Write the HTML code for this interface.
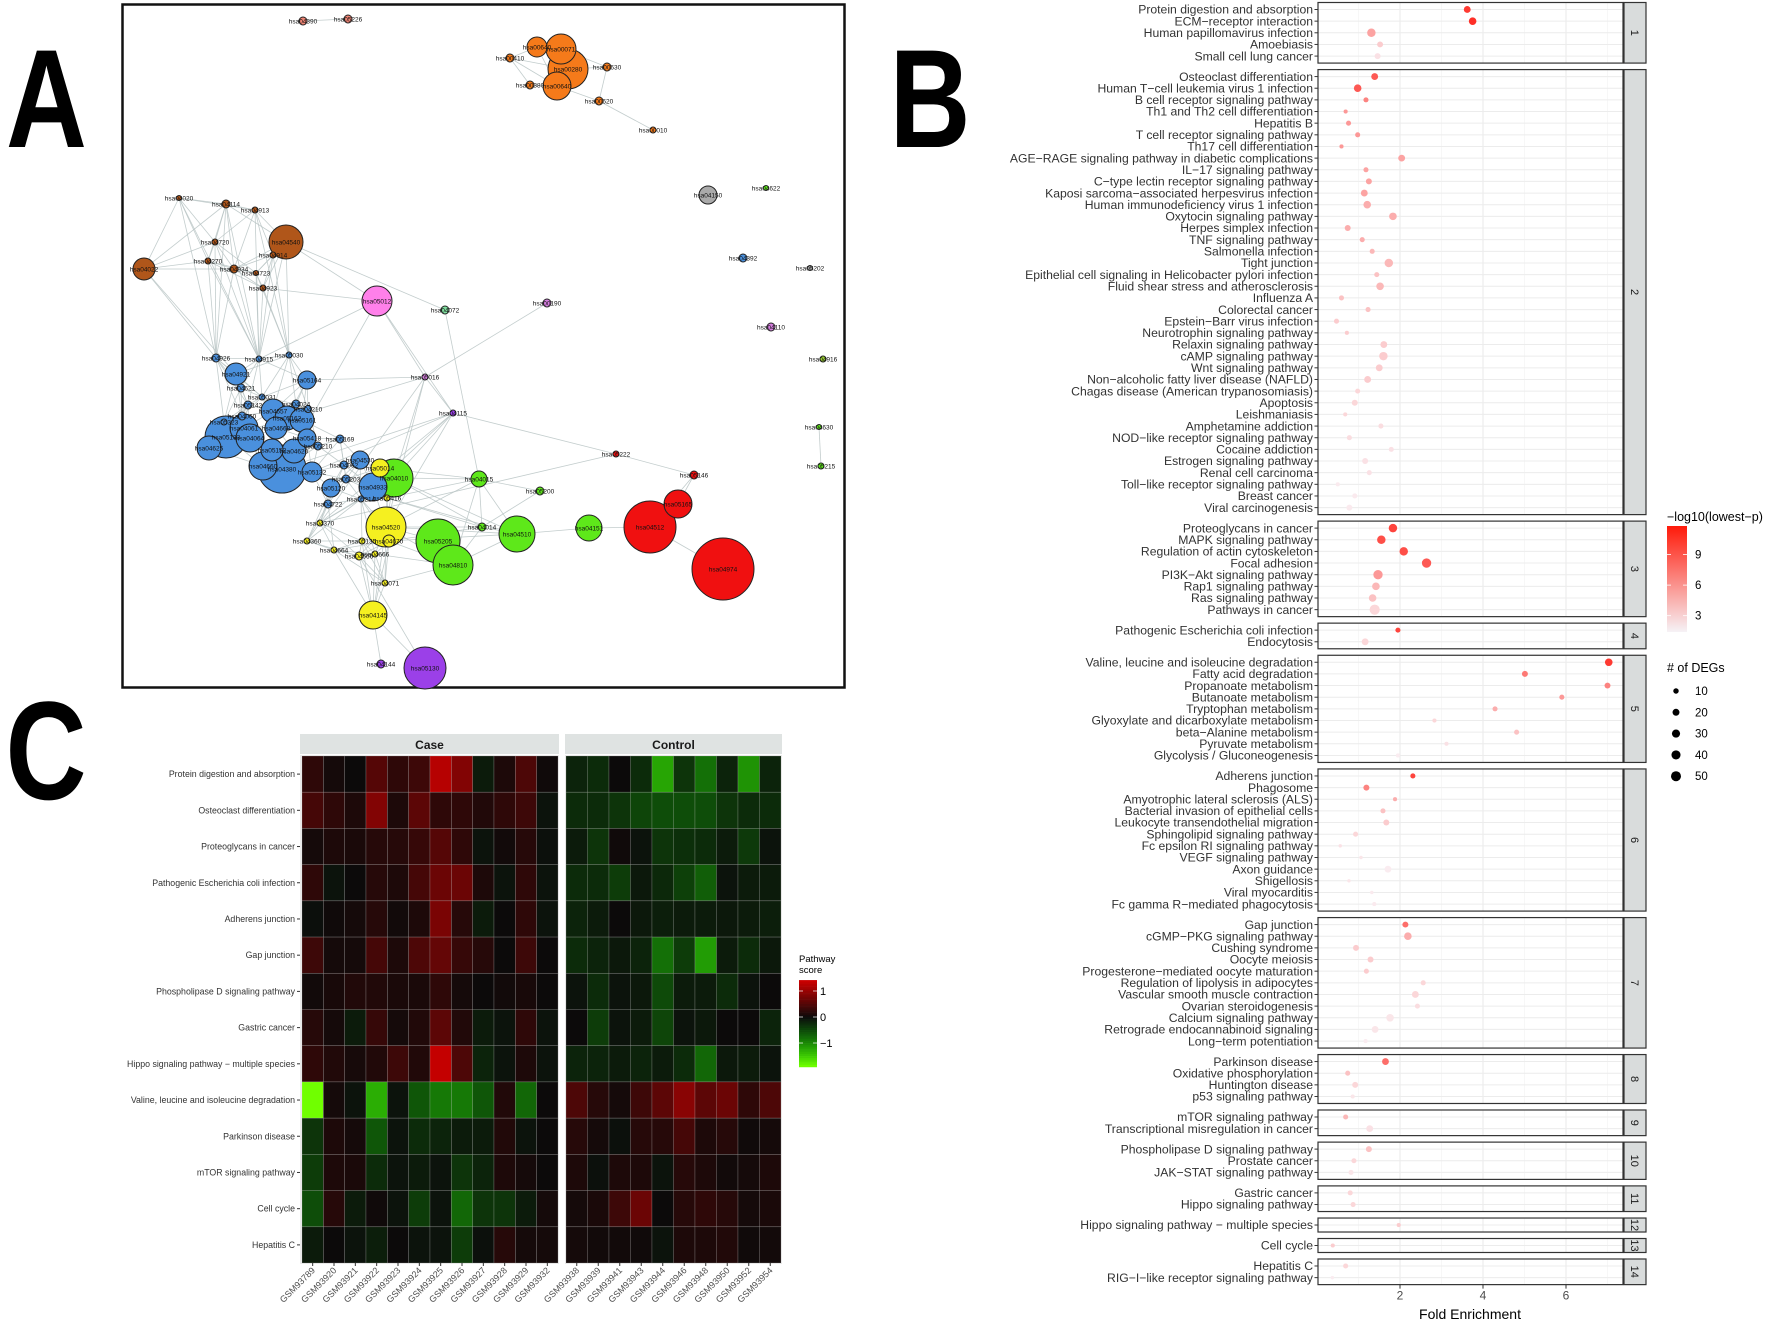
<!DOCTYPE html>
<html><head><meta charset="utf-8">
<style>
html,body{margin:0;padding:0;background:#fff;}
svg{display:block;font-family:"Liberation Sans",Arial,sans-serif;}
</style></head>
<body>
<svg id="fig" width="1772" height="1322" viewBox="0 0 1772 1322" xmlns="http://www.w3.org/2000/svg">
<rect width="1772" height="1322" fill="#fff"/>
<text x="6" y="147" font-size="140" font-weight="bold" transform="translate(6,0) scale(0.8,1) translate(-6,0)" fill="#000">A</text>
<text x="1112" y="147" font-size="140" font-weight="bold" transform="scale(0.8,1)" fill="#000">B</text>
<text x="7" y="799" font-size="140" font-weight="bold" transform="scale(0.8,1)" fill="#000">C</text>
<g id="panelA"></g>
<g id="panelB"></g>
<g id="panelC"></g>
</svg>
<script>
// ---------- Panel A: network nodes ----------
const nodeIds=["hsa04390","hsa05226","hsa00640","hsa00071","hsa00280","hsa00410","hsa00380","hsa00640","hsa00630","hsa00620","hsa00010",
"hsa04020","hsa04114","hsa04913","hsa04540","hsa04720","hsa04914","hsa04022","hsa04270","hsa04934","hsa04723","hsa04923",
"hsa05012","hsa04072","hsa00190","hsa04110","hsa04150","hsa04622","hsa04392","hsa05202","hsa04916","hsa04630","hsa05215",
"hsa04926","hsa04915","hsa05030","hsa04921","hsa05164","hsa04621","hsa05031","hsa05142","hsa04024","hsa04210","hsa04657","hsa05162","hsa05161","hsa04060","hsa05323","hsa04668","hsa04061","hsa05418","hsa05169","hsa05133","hsa04064","hsa04625","hsa05210","hsa05152","hsa04620","hsa04380","hsa04660","hsa05132","hsa04530","hsa04062","hsa05203","hsa05120","hsa04933","hsa04722","hsa05214",
"hsa05014","hsa04010","hsa05416","hsa04015","hsa05200","hsa04370","hsa04520","hsa04360","hsa05135","hsa04670","hsa05205","hsa04014","hsa04510","hsa04151","hsa04664","hsa04666","hsa04666","hsa04810","hsa04071","hsa04145","hsa04144","hsa05130",
"hsa05222","hsa05146","hsa05165","hsa04512","hsa04974","hsa05016","hsa04115"];
const nodeX=[303,348,537,561,568,510,530,557,607,599,653,
179,226,255,286,215,273,144,208,234,256,263,
377,445,547,771,708,766,743,810,823,819,821,
216,259,289,236,307,241,262,248,296,308,273,287,302,242,224,276,244,307,340,226,250,209,318,272,294,282,263,312,360,344,346,331,373,328,361,
380,394,387,479,540,320,386,307,362,389,438,482,517,589,334,359,375,453,385,373,381,425,
616,694,678,650,723,425,453];
const nodeY=[21,19,47,49,69,58,85,86,67,101,130,
198,204,210,242,242,255,269,261,269,273,288,
301,310,303,327,195,188,258,268,359,427,466,
358,359,355,374,380,388,397,405,404,409,411,418,420,416,422,428,428,438,439,437,438,448,446,450,451,469,466,472,460,465,479,488,487,504,499,
468,478,498,479,491,523,527,541,541,541,541,527,534,528,550,556,554,565,583,615,664,668,
454,475,504,527,569,377,413];
const nodeR=[4,4,10,15,20,4,4,14,4,4,3,
2.5,4,3,17,3,3,11,3,4,2.5,3,
15,4,4,4,9,2.5,4,2.5,3,2.5,3,
4,3,3,11,9,4,3,4,4,3.5,12,12,12,4,3,11,14,9,4,21,14,12,4,11,12,24,14,10,9,4,4,9,14,4,3,
9,19,3,8,4,3,20,3,3,6,22,4,18,13,3,4,3,20,3,14,4,21,
3,4,14,26,31,3,3];
const nodeGroup=["s","s","o","o","o","o","o","o","o","o","o",
"br","br","br","br","br","br","br","br","br","br","br",
"pk","tl","vi","vi","gy","gr","bl2","gy","ol","gr","gr",
"bl","bl","bl","bl","bl","bl","bl","bl","bl","bl","bl","bl","bl","bl","bl","bl","bl","bl","bl","bl","bl","bl","bl","bl","bl","bl","bl","bl","bl","bl","bl","bl","bl","bl","bl",
"ye","gr","ye","gr","gr","ye","ye","ye","ye","ye","gr","gr","gr","gr","ye","ye","ye","gr","ye","ye","pu","pu",
"rd","rd","rd","rd","rd","vi","pu"];
const groupColor={s:"#f08575",o:"#f57a1a",br:"#b0561a",pk:"#ff80ea",tl:"#80e0a0",vi:"#d67ee0",gy:"#aaaaaa",gr:"#5ee81a",bl:"#4a90dd",bl2:"#4a90dd",ol:"#9acd32",ye:"#f5f020",pu:"#9b40e8",rd:"#f01010"};
const extraEdges=[[2,3],[3,4],[4,7],[5,2],[5,4],[5,6],[6,7],[4,8],[7,9],[9,8],[9,10],[5,7],[8,3],[2,7],[0,1],
[17,11],[17,18],[17,33],[11,12],[11,15],[12,13],[12,14],[14,16],[14,22],[14,23],[15,18],[22,58],[22,34],[22,21],[22,96],[22,95],
[23,71],[24,95],[31,32],
[95,96],[95,37],[95,52],[95,73],[95,69],[95,74],[96,69],[96,90],[96,73],[96,65],[96,58],[96,74],[96,60],
[91,90],[90,73],[73,69],[91,93],[92,93],[92,91],[93,94],[93,81],[81,80],[80,85],[80,71],[71,72],[71,69],[72,79],[85,78],[78,74],[79,80],[69,79],
[87,86],[87,89],[87,88],[89,83],[86,74]];
// ---------- Panel B: enrichment dot plot ----------
const bGroupSizes=[5,38,8,2,9,12,11,4,2,3,2,1,1,2];
const bTerms=["Protein digestion and absorption","ECM\u2212receptor interaction","Human papillomavirus infection","Amoebiasis","Small cell lung cancer",
"Osteoclast differentiation","Human T\u2212cell leukemia virus 1 infection","B cell receptor signaling pathway","Th1 and Th2 cell differentiation","Hepatitis B","T cell receptor signaling pathway","Th17 cell differentiation","AGE\u2212RAGE signaling pathway in diabetic complications","IL\u221217 signaling pathway","C\u2212type lectin receptor signaling pathway","Kaposi sarcoma\u2212associated herpesvirus infection","Human immunodeficiency virus 1 infection","Oxytocin signaling pathway","Herpes simplex infection","TNF signaling pathway","Salmonella infection","Tight junction","Epithelial cell signaling in Helicobacter pylori infection","Fluid shear stress and atherosclerosis","Influenza A","Colorectal cancer","Epstein\u2212Barr virus infection","Neurotrophin signaling pathway","Relaxin signaling pathway","cAMP signaling pathway","Wnt signaling pathway","Non\u2212alcoholic fatty liver disease (NAFLD)","Chagas disease (American trypanosomiasis)","Apoptosis","Leishmaniasis","Amphetamine addiction","NOD\u2212like receptor signaling pathway","Cocaine addiction","Estrogen signaling pathway","Renal cell carcinoma","Toll\u2212like receptor signaling pathway","Breast cancer","Viral carcinogenesis",
"Proteoglycans in cancer","MAPK signaling pathway","Regulation of actin cytoskeleton","Focal adhesion","PI3K\u2212Akt signaling pathway","Rap1 signaling pathway","Ras signaling pathway","Pathways in cancer",
"Pathogenic Escherichia coli infection","Endocytosis",
"Valine, leucine and isoleucine degradation","Fatty acid degradation","Propanoate metabolism","Butanoate metabolism","Tryptophan metabolism","Glyoxylate and dicarboxylate metabolism","beta\u2212Alanine metabolism","Pyruvate metabolism","Glycolysis / Gluconeogenesis",
"Adherens junction","Phagosome","Amyotrophic lateral sclerosis (ALS)","Bacterial invasion of epithelial cells","Leukocyte transendothelial migration","Sphingolipid signaling pathway","Fc epsilon RI signaling pathway","VEGF signaling pathway","Axon guidance","Shigellosis","Viral myocarditis","Fc gamma R\u2212mediated phagocytosis",
"Gap junction","cGMP\u2212PKG signaling pathway","Cushing syndrome","Oocyte meiosis","Progesterone\u2212mediated oocyte maturation","Regulation of lipolysis in adipocytes","Vascular smooth muscle contraction","Ovarian steroidogenesis","Calcium signaling pathway","Retrograde endocannabinoid signaling","Long\u2212term potentiation",
"Parkinson disease","Oxidative phosphorylation","Huntington disease","p53 signaling pathway",
"mTOR signaling pathway","Transcriptional misregulation in cancer",
"Phospholipase D signaling pathway","Prostate cancer","JAK\u2212STAT signaling pathway",
"Gastric cancer","Hippo signaling pathway",
"Hippo signaling pathway \u2212 multiple species",
"Cell cycle",
"Hepatitis C","RIG\u2212I\u2212like receptor signaling pathway"];
const bFold=[3.62,3.75,1.31,1.52,1.46,
1.39,0.98,1.18,0.69,0.76,0.98,0.59,2.04,1.18,1.25,1.14,1.21,1.83,0.74,1.09,1.33,1.73,1.44,1.52,0.59,1.23,0.47,0.72,1.61,1.60,1.50,1.22,0.98,0.91,0.68,1.54,0.78,1.79,1.16,1.26,0.50,0.91,0.78,
1.83,1.55,2.09,2.64,1.47,1.42,1.34,1.39,
1.95,1.16,
7.03,5.01,7.00,5.90,4.29,2.83,4.81,3.12,1.95,
2.31,1.19,1.88,1.59,1.67,0.93,0.56,1.06,1.71,0.77,1.32,1.38,
2.13,2.19,0.94,1.29,1.19,2.56,2.37,2.42,1.76,1.40,1.17,
1.65,0.74,0.92,0.86,
0.69,1.27,
1.25,0.89,0.82,
0.80,0.87,
1.97,
0.38,
0.69,0.37];
const bLogP=[10,10.5,5,3,2,
8.5,8.5,6.5,5.5,5.5,5.5,5.5,5,5,5,5,4.5,4.5,4.5,4.5,4,4,3.5,4,3.5,3.5,3,3,3,3,3,3,2.5,2.5,2.5,2.2,2.2,2,2,2,1.6,1.6,1.6,
9.5,9,9,8.5,5.5,4,3.5,2.5,
9.5,2.5,
10,7,6.5,5.5,4.5,2.5,3.5,2,1.5,
9.5,6.5,4.5,3.5,3,2.5,2,1.8,1.5,1.8,1.6,1.6,
7.5,4.5,3,3,3,2.5,2.5,2.2,1.8,1.8,1.5,
7.5,3.5,2.5,1.8,
4,2,
3.5,2.5,1.8,
2.5,2.5,
3,
3,
2.5,1.5];
const bDegs=[19,25,33,13,13,
19,25,8,4,8,8,4,19,8,13,19,25,25,13,8,8,33,8,25,8,8,8,4,19,33,19,19,8,13,4,8,8,8,13,8,4,8,13,
33,33,33,42,42,25,25,52,
8,19,
25,13,13,8,8,4,8,4,4,
8,13,4,8,13,8,2,2,19,2,2,4,
13,25,13,13,8,8,19,8,25,19,4,
19,8,13,4,
8,19,
13,8,8,
8,8,
4,
4,
8,2];
const bXTicks=[2,4,6];
const bLegendP=[9,6,3];
const bLegendDegs=[10,20,30,40,50];
// ---------- Panel C: heatmap ----------
const cRows=["Protein digestion and absorption","Osteoclast differentiation","Proteoglycans in cancer","Pathogenic Escherichia coli infection","Adherens junction","Gap junction","Phospholipase D signaling pathway","Gastric cancer","Hippo signaling pathway \u2212 multiple species","Valine, leucine and isoleucine degradation","Parkinson disease","mTOR signaling pathway","Cell cycle","Hepatitis C"];
const caseCols=["GSM93789","GSM93920","GSM93921","GSM93922","GSM93923","GSM93924","GSM93925","GSM93926","GSM93927","GSM93928","GSM93929","GSM93932"];
const controlCols=["GSM93938","GSM93939","GSM93941","GSM93943","GSM93944","GSM93946","GSM93948","GSM93950","GSM93952","GSM93954"];
const caseVals=[
[0.2,0.05,0,0.45,0.2,0.3,1.1,0.75,-0.1,0.1,0.4,0.02],
[0.35,0.2,0.1,0.75,0.1,0.5,0.2,0.2,0.12,0.2,0.3,-0.05],
[0.05,0.1,0.08,0.15,0.15,0.25,0.45,0.2,-0.05,0.03,0.15,-0.03],
[0.2,-0.05,0,0.15,0.1,0.35,0.6,0.6,0.1,-0.05,0.2,-0.05],
[-0.02,0.02,0.05,0.15,0.03,0.1,0.7,0.15,-0.1,0,0.2,-0.05],
[0.3,0.05,0.05,0.35,0.1,0.4,0.55,0.25,0.15,0,0.3,0],
[0.03,0.07,0.12,0.12,0.08,0.08,0.2,0.05,0,0.03,0.07,0],
[0.15,0.05,-0.1,0.25,0.05,0.12,0.5,0.12,-0.1,-0.05,0.2,-0.05],
[0.2,0.12,0.06,0.12,0.3,0.12,1.2,0.4,-0.15,-0.05,0.1,-0.05],
[-1.4,0.05,-0.05,-0.95,-0.05,-0.45,-0.65,-0.65,-0.45,0.12,-0.55,0],
[-0.25,0.1,0.05,-0.45,-0.05,-0.2,-0.15,-0.1,-0.1,0.12,-0.05,0],
[-0.3,0.1,0.08,-0.2,-0.05,-0.1,-0.05,-0.25,-0.15,0.1,0.05,0],
[-0.4,0.15,-0.1,0.02,-0.05,-0.3,-0.05,-0.55,-0.25,-0.25,-0.1,0.05],
[-0.1,0,-0.05,-0.12,0,-0.05,-0.05,-0.3,-0.03,0.15,0.05,0.05]];
const controlVals=[
[-0.15,-0.2,0,-0.2,-0.9,-0.25,-0.6,-0.15,-0.8,-0.15],
[-0.2,-0.2,-0.25,-0.35,-0.4,-0.4,-0.4,-0.25,-0.2,-0.2],
[-0.1,-0.25,0.02,-0.05,-0.25,-0.22,-0.2,-0.1,-0.28,-0.05],
[-0.2,-0.2,-0.3,-0.08,-0.18,-0.32,-0.5,-0.05,-0.1,-0.1],
[-0.15,-0.1,0,-0.08,-0.12,-0.1,-0.1,-0.08,-0.1,-0.12],
[-0.2,-0.15,-0.08,-0.15,-0.6,-0.3,-0.85,-0.1,-0.2,-0.08],
[-0.05,-0.2,-0.05,-0.08,-0.38,-0.1,-0.1,-0.2,-0.05,0],
[0,-0.3,-0.05,-0.1,-0.35,-0.05,-0.08,0,0,-0.15],
[-0.15,-0.15,-0.1,-0.15,-0.1,-0.2,-0.55,-0.08,-0.1,-0.05],
[0.4,0.15,0.05,0.3,0.5,0.8,0.5,0.6,0.2,0.4],
[0.15,0.05,-0.03,0.15,0.15,0.35,0.1,0.15,0.02,0.05],
[0.1,-0.03,0.1,0.1,-0.05,0.15,0.1,0.03,0.05,0.1],
[0.05,0.08,0.3,0.6,0,0.15,0.2,0.15,0.05,0.08],
[0.05,0.03,0.03,0.02,-0.05,0.1,0.1,0.12,0.02,0.04]];
const cLegendTicks=[1,0,-1];

const NS="http://www.w3.org/2000/svg";
function mk(tag,attrs,parent){const e=document.createElementNS(NS,tag);for(const k in attrs)e.setAttribute(k,attrs[k]);parent.appendChild(e);return e;}

// ===== Panel A =====
(function(){
const g=document.getElementById('panelA');
const box=mk('rect',{x:122.5,y:4.5,width:722,height:683,fill:'#fff',stroke:'#111','stroke-width':2.5},g);


const eg=mk('g',{stroke:'#b8c4c4','stroke-width':0.8,'stroke-opacity':0.85},g);


const main=[];
nodeGroup.forEach((gr,i)=>{if(["bl","br","ye"].includes(gr)||[69,71,80,85,79].includes(i)) main.push(i);});
const seen=new Set();
function edge(a,b){const k=a<b?a+'-'+b:b+'-'+a;if(seen.has(k)||a===b)return;seen.add(k);
 const l=mk('line',{x1:nodeX[a],y1:nodeY[a],x2:nodeX[b],y2:nodeY[b]},eg);
 
 }
main.forEach(i=>{
 const d=main.filter(j=>j!==i).map(j=>[j,Math.hypot(nodeX[i]-nodeX[j],nodeY[i]-nodeY[j])]).sort((a,b)=>a[1]-b[1]);
 const k=nodeGroup[i]==="br"?5:7;
 d.slice(0,k).forEach(p=>edge(i,p[0]));
 if(nodeGroup[i]==="br"){d.filter(p=>nodeGroup[p[0]]==="bl").slice(0,2).forEach(p=>edge(i,p[0]));}
});
extraEdges.forEach(e=>{if(e[0]<nodeX.length&&e[1]<nodeX.length)edge(e[0],e[1]);});
const order=nodeX.map((_,i)=>i).sort((a,b)=>nodeR[b]-nodeR[a]);
order.forEach(i=>{
 const c=mk('circle',{cx:nodeX[i],cy:nodeY[i],r:nodeR[i],fill:groupColor[nodeGroup[i]],stroke:'#222','stroke-width':1},g);
 
 
});
order.forEach(i=>{
 const t=mk('text',{x:nodeX[i],y:nodeY[i]+2.3,'font-size':6.5,'text-anchor':'middle',fill:'#111'},g);
 t.textContent=nodeIds[i];
 
 
});
})();

// ===== Panel B =====
(function(){
const g=document.getElementById('panelB');
const L=1318,R=1623,SX=1624,SW=22;
const xB=v=>1317+41.5*v;
const u=11.65,gap=6.5;
function pColor(p){const t=Math.max(0,Math.min(1,(p-1.4)/(11.8-1.4)));
 const a=[250,238,242],b=[255,20,10];
 return 'rgb('+a.map((c,i)=>Math.round(c+(b[i]-c)*t)).join(',')+')';}
const rad=d=>0.9+0.58*Math.sqrt(d);
let y=2.5,idx=0;
bGroupSizes.forEach((n,gi)=>{
 const h=(n+0.2)*u;
 const pg=mk('g',{},g);
 
 
 mk('rect',{x:L,y:y,width:R-L,height:h,fill:'#fff'},pg);
 [1,3,5,7].forEach(v=>mk('line',{x1:xB(v),x2:xB(v),y1:y,y2:y+h,stroke:'#f4f4f4','stroke-width':0.7},pg));
 bXTicks.forEach(v=>mk('line',{x1:xB(v),x2:xB(v),y1:y,y2:y+h,stroke:'#e8e8e8','stroke-width':1},pg));
 for(let i=0;i<n;i++){const cy=y+(0.6+i)*u;
  mk('line',{x1:L,x2:R,y1:cy,y2:cy,stroke:'#ececec','stroke-width':1},pg);}
 for(let i=0;i<n;i++,idx++){const cy=y+(0.6+i)*u;
  const t=mk('text',{x:1313,y:cy+4.2,'font-size':12.2,'text-anchor':'end',fill:'#333'},pg);
  t.textContent=bTerms[idx];
  
  
  mk('line',{x1:1314.5,x2:L,y1:cy,y2:cy,stroke:'#333','stroke-width':1},pg);
  const c=mk('circle',{cx:xB(bFold[idx]),cy:cy,r:rad(bDegs[idx]),fill:pColor(bLogP[idx])},pg);
  
  
 }
 mk('rect',{x:L,y:y,width:R-L,height:h,fill:'none',stroke:'#333','stroke-width':1.2},pg);
 const s=mk('rect',{x:SX,y:y,width:SW,height:h,fill:'#d9dcdc',stroke:'#333','stroke-width':1.2},pg);
 
 
 const st=mk('text',{x:0,y:0,'font-size':11,'text-anchor':'middle',fill:'#1a1a1a',transform:`translate(${SX+SW/2-4},${y+h/2}) rotate(90)`},pg);
 st.textContent=String(gi+1);
 
 
 y+=h+gap;
});
const yb=y-gap;
bXTicks.forEach(v=>{
 mk('line',{x1:xB(v),x2:xB(v),y1:yb,y2:yb+4,stroke:'#333','stroke-width':1},g);
 const t=mk('text',{x:xB(v),y:yb+15,'font-size':12,'text-anchor':'middle',fill:'#4d4d4d'},g);
 t.textContent=v;
 
 
});
const xt=mk('text',{x:1470,y:1319,'font-size':14,'text-anchor':'middle',fill:'#000'},g);
xt.textContent='Fold Enrichment';


const lg=mk('g',{},g);


const lt=mk('text',{x:1667,y:521,'font-size':12.5,fill:'#000'},lg);
lt.textContent='\u2212log10(lowest\u2212p)';


const defs=mk('defs',{},g);
const gr=mk('linearGradient',{id:'pgrad',x1:0,y1:1,x2:0,y2:0},defs);
mk('stop',{offset:'0','stop-color':'#f6f2f6'},gr);
mk('stop',{offset:'1','stop-color':'#ff1a0a'},gr);
const bar=mk('rect',{x:1667,y:526,width:20,height:106,fill:'url(#pgrad)'},lg);


const pY=p=>632-(p-1.4)/(11.8-1.4)*106;
bLegendP.forEach(p=>{
 mk('line',{x1:1667,x2:1671,y1:pY(p),y2:pY(p),stroke:'#fff','stroke-width':0.8},lg);
 mk('line',{x1:1683,x2:1687,y1:pY(p),y2:pY(p),stroke:'#fff','stroke-width':0.8},lg);
 const t=mk('text',{x:1695,y:pY(p)+4,'font-size':11.5,fill:'#000'},lg);
 t.textContent=p;
 
 
});
const st2=mk('text',{x:1667,y:672,'font-size':12.5,fill:'#000'},lg);
st2.textContent='# of DEGs';


bLegendDegs.forEach((d,i)=>{
 const cy=691+i*21.3;
 const c=mk('circle',{cx:1676,cy:cy,r:rad(d),fill:'#000'},lg);
 
 
 const t=mk('text',{x:1695,y:cy+4,'font-size':11.5,fill:'#000'},lg);
 t.textContent=d;
 
 
});
})();

// ===== Panel C =====
(function(){
const g=document.getElementById('panelC');
const top=756,bot=1263,rh=(bot-top)/cRows.length;
function hColor(v){
 if(v>=0){const r=Math.min(210,Math.round(155*Math.pow(v,0.95)));return `rgb(${r+12},${10-Math.min(10,Math.round(v*8))},${10-Math.min(10,Math.round(v*8))})`;}
 const t=Math.min(1,-v/1.4);
 const gg=Math.round(12+243*Math.pow(t,1.05));const r=Math.round(12+100*Math.pow(t,3));
 return `rgb(${r},${gg},${Math.max(0,12-Math.round(t*12))})`;
}
const facets=[{name:'Case',x0:302,x1:558,sx0:300,sx1:559,cols:caseCols,vals:caseVals},{name:'Control',x0:566,x1:781,sx0:565,sx1:782,cols:controlCols,vals:controlVals}];
facets.forEach(f=>{
 const fg=mk('g',{},g);
 
 
 const s=mk('rect',{x:f.sx0,y:734,width:f.sx1-f.sx0,height:20,fill:'#dfe3e2'},fg);
 
 
 const st=mk('text',{x:(f.sx0+f.sx1)/2,y:749,'font-size':12,'font-weight':'bold','text-anchor':'middle',fill:'#1a1a1a'},fg);
 st.textContent=f.name;
 
 
 mk('rect',{x:f.sx0,y:top-1,width:f.sx1-f.sx0,height:bot-top+2,fill:'#ebebeb'},fg);
 const cw=(f.x1-f.x0)/f.cols.length;
 f.vals.forEach((row,ri)=>row.forEach((v,ci)=>{
  const c=mk('rect',{x:f.x0+ci*cw,y:top+ri*rh,width:cw,height:rh,fill:hColor(v),stroke:'rgba(200,200,200,0.35)','stroke-width':0.6},fg);
  
  
 }));
 f.cols.forEach((name,ci)=>{
  const cx=f.x0+(ci+0.5)*cw;
  mk('line',{x1:cx,x2:cx,y1:bot,y2:bot+3,stroke:'#333','stroke-width':1},fg);
  const t=mk('text',{x:0,y:0,'font-size':9,'text-anchor':'end',fill:'#4d4d4d',transform:`translate(${cx+3},${bot+8}) rotate(-45)`},fg);
  t.textContent=name;
  
  
 });
});
cRows.forEach((name,ri)=>{
 const cy=top+(ri+0.5)*rh;
 mk('line',{x1:297,x2:300,y1:cy,y2:cy,stroke:'#333','stroke-width':1},g);
 const t=mk('text',{x:295,y:cy+3,'font-size':8.8,'text-anchor':'end',fill:'#333'},g);
 t.textContent=name;
 
 
});
const lg=mk('g',{},g);


const t1=mk('text',{x:799,y:962,'font-size':9.5,fill:'#000'},lg);t1.textContent='Pathway';


const t2=mk('text',{x:799,y:973,'font-size':9.5,fill:'#000'},lg);t2.textContent='score';


const sY=v=>1017-v*26;
const n=40;
for(let i=0;i<n;i++){const v0=1.42-(i)*(1.42+1.92)/n;const v1=1.42-(i+1)*(1.42+1.92)/n;
 const vv=(v0+v1)/2; const s=vv>0?vv*0.9:vv*0.74;
 mk('rect',{x:799,y:sY(v0),width:18,height:sY(v1)-sY(v0)+0.3,fill:hColor(s)},lg);}
cLegendTicks.forEach(v=>{
 mk('line',{x1:799,x2:803,y1:sY(v),y2:sY(v),stroke:'#fff','stroke-width':0.7},lg);
 mk('line',{x1:813,x2:817,y1:sY(v),y2:sY(v),stroke:'#fff','stroke-width':0.7},lg);
 const t=mk('text',{x:820,y:sY(v)+4,'font-size':11,fill:'#000'},lg);
 t.textContent=v<0?'\u2212'+Math.abs(v):String(v);
 
 
});
})();
</script>
</body></html>
